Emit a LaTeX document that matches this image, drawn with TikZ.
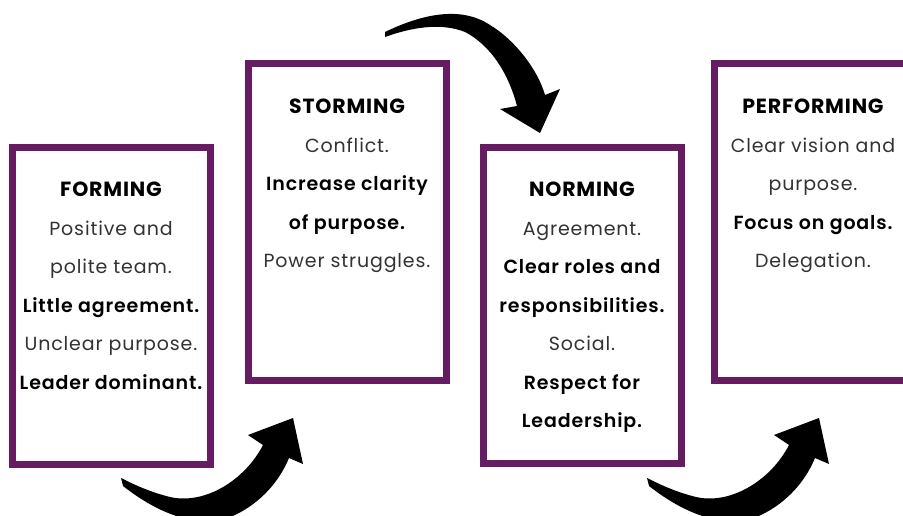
\documentclass[tikz,border=0pt]{standalone}
\usepackage{fontspec}
\setmainfont{Poppins}[LetterSpace=4.5,BoldFont={Poppins SemiBold}]
\newfontfamily\headfont{Poppins}[LetterSpace=4]
\definecolor{stagepurple}{RGB}{102,28,98}
\definecolor{bodygray}{RGB}{50,50,50}

\begin{document}
\begin{tikzpicture}[x=1pt,y=-1pt,
  stagebox/.style={draw=stagepurple, line width=7pt, inner sep=0pt,
    minimum width=198pt, minimum height=316pt},
  stagetext/.style={anchor=north, align=center, inner sep=0pt,
    font=\fontsize{19}{38.5}\selectfont, text=bodygray},
  risearrow/.pic={
    \fill[black] (-1,-4) -- (1,4)
      .. controls (38,33) and (78,48) .. (113,33)
      .. controls (140,20) and (158,-2) .. (167,-24)
      -- (181,-18) -- (171,-64) -- (126,-47) -- (141,-37)
      .. controls (123,-2) and (83,23) .. (48,15)
      .. controls (28,10) and (13,3) .. (-1,-4) -- cycle;
  }]
\newcommand{\keyline}[1]{\textbf{\color{black}#1}}
\newcommand{\stagetitle}[1]{{\headfont\bfseries\fontsize{20.5}{38.5}\selectfont\color{black}#1}}

\useasboundingbox (0,0) rectangle (903,516);

% stage frames
\node[stagebox] (forming) at (111,306) {};
\node[stagebox] (storming) at (347,222) {};
\node[stagebox] (norming) at (582,305.5) {};
\node[stagebox] (performing) at (813,222) {};

% stage descriptions
\node[stagetext] (formingtxt) at (111,182) {\stagetitle{FORMING}\\ Positive and\\ polite team.\\
  \keyline{Little agreement.}\\ Unclear purpose.\\ \keyline{Leader dominant.}};
\node[stagetext] (stormingtxt) at (347,99) {\stagetitle{STORMING}\\ Conflict.\\
  \keyline{Increase clarity}\\ \keyline{of purpose.}\\ Power struggles.};
\node[stagetext] (normingtxt) at (582,182) {\stagetitle{NORMING}\\ Agreement.\\
  \keyline{Clear roles and}\\ \keyline{responsibilities.}\\ Social.\\
  \keyline{Respect for}\\ \keyline{Leadership.}};
\node[stagetext] (performingtxt) at (813,99) {\stagetitle{PERFORMING}\\ Clear vision and\\
  purpose.\\ \keyline{Focus on goals.}\\ Delegation.};

% curved transition arrows
\pic at (122,482) {risearrow};
\pic at (648,482) {risearrow};
\fill[black] (385,37) -- (385,32)
  .. controls (420,15) and (460,5) .. (490,25)
  .. controls (515,40) and (538,70) .. (545,95)
  -- (560,89) -- (540,133) -- (500,109) -- (517,106)
  .. controls (508,72) and (490,45) .. (465,32)
  .. controls (440,22) and (410,28) .. (385,37) -- cycle;
\end{tikzpicture}
\end{document}
